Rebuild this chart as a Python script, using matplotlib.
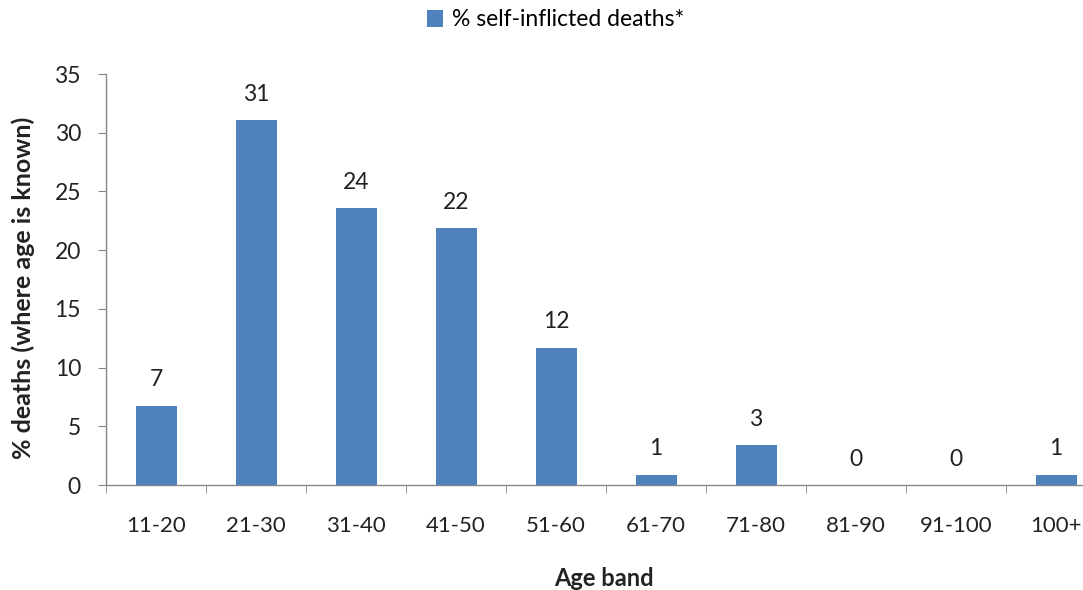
import matplotlib
matplotlib.use("Agg")
import matplotlib.pyplot as plt
import numpy as np

categories = ["11-20", "21-30", "31-40", "41-50", "51-60", "61-70", "71-80", "81-90", "91-100", "100+"]
values = [6.75, 31.05, 23.6, 21.9, 11.7, 0.88, 3.4, 0.0, 0.0, 0.88]
labels = ["7", "31", "24", "22", "12", "1", "3", "0", "0", "1"]
series_name = "% self-inflicted deaths*"

plt.rcParams['font.family'] = ['Lato', 'DejaVu Sans']

fig = plt.figure(figsize=(10.83, 5.90), dpi=100)
ax = fig.add_axes([106/1083, 1-485/590, 1-106/1083, (485-74)/590])

x = np.arange(len(categories))
bars = ax.bar(x, values, width=0.41, color="#4F81BD", label=series_name, zorder=3)

for xi, v, lab in zip(x, values, labels):
    ax.text(xi, v + 1.3, lab, ha="center", va="bottom", fontsize=16.5, color="#222222")

ax.set_yticks(np.arange(0, 36, 5))
ax.set_xticks(x)
ax.set_xticklabels(categories, fontsize=16, color="#222222")
ax.set_xticks(np.arange(-0.5, 10, 1), minor=True)
ax.set_ylim(0, 35)
ax.set_xlim(-0.5, 9.27)
ax.tick_params(axis="x", which="major", length=0, pad=22)
ax.tick_params(axis="x", which="minor", length=6, color="#868686", direction="out")
ax.tick_params(axis="y", length=6, color="#868686", labelsize=16.5, labelcolor="#222222", pad=12)

for s in ["top", "right"]:
    ax.spines[s].set_visible(False)
for s in ["left", "bottom"]:
    ax.spines[s].set_color("#868686")
    ax.spines[s].set_linewidth(1.0)

fig.text(23/1083, 1-288/590, "% deaths (where age is known)", rotation=90, ha="center", va="center",
         fontsize=18, fontweight="bold", color="#222222")
fig.text(604/1083, 1-578/590, "Age band", ha="center", va="center",
         fontsize=17, fontweight="bold", color="#222222")

fig.legend(handles=[bars], labels=[series_name], loc="center", bbox_to_anchor=(556/1083, 1-20/590),
           frameon=False, fontsize=16.5, handlelength=0.7, handleheight=0.7, handletextpad=0.4)

fig.savefig("out.png", dpi=100)
